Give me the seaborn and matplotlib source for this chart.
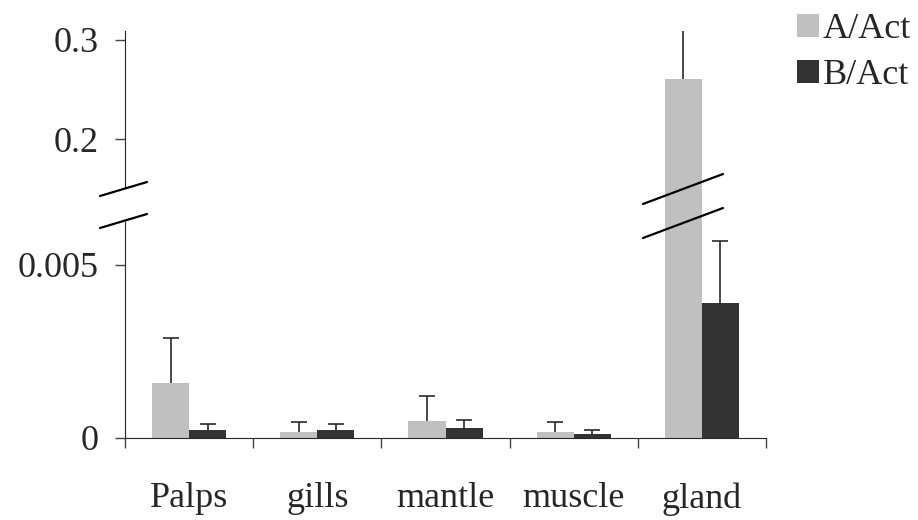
import numpy as np
import pandas as pd
import matplotlib
matplotlib.use("Agg")
import matplotlib.pyplot as plt
from matplotlib.patches import Patch
from matplotlib.lines import Line2D
import seaborn as sns

# data
tissues = ["Palps", "gills", "mantle", "muscle", "gland"]
a_act = [0.0016, 0.00017, 0.00049, 0.00018, 0.261]
a_err = [0.0013, 0.00028, 0.00071, 0.00028, 0.051]
b_act = [0.00023, 0.00023, 0.00029, 0.00012, 0.0039]
b_err = [0.00017, 0.00017, 0.00022, 0.00011, 0.0018]
series = ["A/Act", "B/Act"]
colors = ["#c0c0c0", "#333333"]

df = pd.DataFrame({
    "tissue": tissues * 2,
    "ratio": a_act + b_act,
    "gene": [series[0]] * len(tissues) + [series[1]] * len(tissues),
})

sns.set_style("ticks")
plt.rcParams["font.family"] = ["Liberation Serif", "DejaVu Serif"]
plt.rcParams["font.size"] = 26

W, H = 918, 520
fig = plt.figure(figsize=(W / 100, H / 100), dpi=100)


def fx(px):
    return px / W


def fy(py):
    return 1 - py / H


left, right = fx(125), fx(766)
split = fy(205)
ax_bot = fig.add_axes([left, fy(438), right - left, split - fy(438)])
ax_top = fig.add_axes([left, split, right - left, fy(31) - split])

for ax in (ax_top, ax_bot):
    sns.barplot(data=df, x="tissue", y="ratio", hue="gene", palette=colors,
                width=0.58, errorbar=None, saturation=1, legend=False,
                linewidth=0, ax=ax)
    # one-sided (upper) error bars
    for cont, errs in zip(ax.containers, [a_err, b_err]):
        for bar, e in zip(cont, errs):
            xc = bar.get_x() + bar.get_width() / 2
            h = bar.get_height()
            ax.vlines(xc, h, h + e, color="#2a2a2a", lw=1.2)
            ax.plot([xc], [h + e], marker="_", ms=11, mew=1.2,
                    color="#2a2a2a")
    ax.set_xlim(-0.5, 4.5)
    ax.set_xlabel("")
    ax.set_ylabel("")
    ax.spines["top"].set_visible(False)
    ax.spines["right"].set_visible(False)
    ax.tick_params(axis="y", direction="out", length=7, width=1,
                   color="#444444", pad=12)

# lower part
ax_bot.set_ylim(0, 0.00673)
ax_bot.set_yticks([0, 0.005])
ax_bot.set_yticklabels(["0", "0.005"])
ax_bot.spines["left"].set_bounds(0, 0.00624)
ax_bot.set_xticks(range(len(tissues)))
ax_bot.set_xticklabels(tissues)
ax_bot.set_xticks(np.arange(-0.5, len(tissues)), minor=True)
ax_bot.tick_params(axis="x", which="major", length=0, pad=32)
ax_bot.tick_params(axis="x", which="minor", direction="out", length=7,
                   width=1, color="#444444")

# upper part
ax_top.set_ylim(0.1337, 0.309)
ax_top.set_yticks([0.2, 0.3])
ax_top.set_yticklabels(["0.2", "0.3"])
ax_top.spines["left"].set_bounds(0.1518, 0.309)
ax_top.spines["bottom"].set_visible(False)
ax_top.set_xticks([])
ax_top.patch.set_visible(False)

# break marks
for (x0, y0, x1, y1) in [(100, 196, 147, 182), (100, 228, 147, 214),
                         (643, 204, 723, 174), (643, 238, 723, 208)]:
    fig.add_artist(Line2D([fx(x0), fx(x1)], [fy(y0), fy(y1)],
                          color="black", lw=1.6))

handles = [Patch(facecolor=c, edgecolor="none") for c in colors]
fig.legend(handles, series, loc="upper left", bbox_to_anchor=(fx(790), fy(6)),
           frameon=False, handlelength=0.6, handleheight=0.6,
           handletextpad=0.1, labelspacing=0.35, borderaxespad=0,
           borderpad=0.2)

fig.savefig("out.png", dpi=100)
